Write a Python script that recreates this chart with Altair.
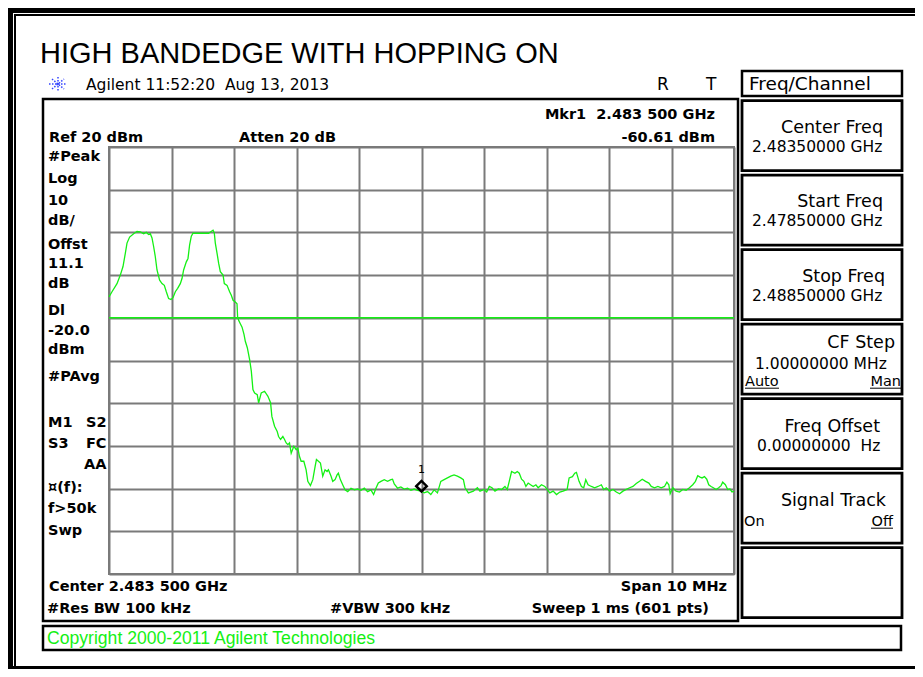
import altair as alt
import pandas as pd

# ---------------- data ----------------
START_MHZ = 2478.5
REF_DBM = 20
BOTTOM_DBM = -80
DISPLAY_LINE_DBM = -20.0
MARKER_MHZ = 2483.5
MARKER_DBM = -60.61

freq_offset_mhz = [
    0.000, 0.048, 0.128, 0.181, 0.224, 0.261, 0.288, 0.330, 0.394, 0.448,
    0.501, 0.554, 0.597, 0.634, 0.661, 0.688, 0.714, 0.741, 0.768, 0.810,
    0.848, 0.885, 0.917, 0.954, 0.992, 1.024, 1.061, 1.098, 1.141, 1.168,
    1.194, 1.237, 1.264, 1.290, 1.317, 1.344, 1.408, 1.461, 1.541, 1.594,
    1.633, 1.665, 1.685, 1.701, 1.729, 1.754, 1.781, 1.825, 1.845, 1.889,
    1.930, 1.957, 1.985, 2.021, 2.048, 2.058, 2.074, 2.101, 2.129,
    2.160, 2.181, 2.213, 2.250, 2.277, 2.303, 2.330, 2.372, 2.394, 2.436,
    2.489, 2.543, 2.585, 2.606, 2.649, 2.691, 2.713, 2.745, 2.782, 2.809,
    2.835, 2.862, 2.888, 2.915, 2.957, 2.995, 3.021, 3.048, 3.074, 3.117,
    3.154, 3.181, 3.223, 3.261, 3.298, 3.319, 3.351, 3.383, 3.420, 3.457,
    3.489, 3.511, 3.553, 3.580, 3.617, 3.649, 3.670, 3.702, 3.739, 3.777,
    3.819, 3.872, 3.926, 3.979, 4.032, 4.085, 4.138, 4.191, 4.234, 4.271,
    4.309, 4.351, 4.404, 4.457, 4.511, 4.537, 4.564, 4.617, 4.670, 4.723,
    4.777, 4.830, 4.883, 4.936, 5.000, 5.043, 5.096, 5.149, 5.202, 5.255,
    5.309, 5.362, 5.415, 5.468, 5.521, 5.574,
    5.628, 5.670, 5.697, 5.750, 5.830, 5.894, 5.936, 6.000, 6.043, 6.085,
    6.128, 6.176, 6.229, 6.282, 6.335, 6.372, 6.404, 6.441, 6.495, 6.532,
    6.564, 6.601, 6.638, 6.670, 6.707, 6.745, 6.787, 6.830, 6.867, 6.920,
    6.973, 7.011, 7.053, 7.106, 7.160, 7.213, 7.266, 7.330, 7.362, 7.415,
    7.452, 7.479, 7.521, 7.559, 7.596, 7.628, 7.665, 7.718, 7.771, 7.824,
    7.878, 7.915, 7.957, 8.011, 8.064, 8.117, 8.170, 8.223, 8.277, 8.330,
    8.383, 8.436, 8.489, 8.532, 8.585, 8.638, 8.676, 8.729, 8.782, 8.835,
    8.888, 8.926, 8.957, 8.979, 9.021, 9.074, 9.128, 9.181, 9.234, 9.287,
    9.340, 9.383, 9.420, 9.457, 9.489, 9.527, 9.564, 9.596, 9.633, 9.670,
    9.713, 9.755, 9.793, 9.819, 9.862, 9.899, 9.936, 9.968, 10.000,
]

level_dbm = [
    -15.1, -13.9, -12.0, -10.0, -8.0, -4.9, -2.5, -1.1, -0.3, 0.2,
    0.1, -0.3, 0.0, -0.5, -0.3, -1.3, -3.3, -5.7, -8.8, -11.2,
    -12.0, -12.4, -13.9, -15.5, -15.7, -15.3, -13.9, -13.1, -12.0, -10.8,
    -8.8, -6.9, -6.1, -2.9, -0.9, -0.2, -0.2, -0.2, -0.2, -0.2,
    0.2, 0.5, -0.2, -2.5, -4.9, -7.2, -9.2, -10.0, -12.0, -12.4,
    -13.9, -14.7, -15.9, -16.3, -16.7, -19.8, -20.6, -21.4, -22.2,
    -23.9, -25.5, -27.0, -29.8, -32.5, -36.8, -37.6, -38.0, -39.9, -37.6,
    -37.2, -38.4, -39.9, -43.1, -45.4, -46.6, -47.8, -48.5, -47.8, -48.5,
    -49.3, -49.7, -49.3, -51.7, -50.1, -50.9, -50.5, -52.5, -53.6, -53.6,
    -55.6, -58.3, -59.3, -57.9, -54.8, -53.2, -53.6, -54.0, -57.1, -55.6,
    -56.0, -55.6, -57.1, -58.3, -57.9, -56.8, -56.4, -57.9, -59.1, -60.3,
    -60.7, -59.9, -60.3, -60.1, -60.4, -59.9, -60.7, -60.3, -61.4, -59.9,
    -58.7, -58.3, -57.9, -58.3, -57.9, -57.8, -58.9, -59.9, -59.6, -60.1,
    -59.9, -60.4, -60.1, -60.4, -60.61, -61.0, -60.7, -61.4, -60.3, -61.0,
    -58.3, -57.9, -57.5, -57.1, -56.8, -57.1,
    -57.5, -57.9, -59.8, -61.0, -60.6, -59.8, -60.6, -60.2, -60.8, -59.5,
    -59.8, -60.6, -60.1, -60.2, -59.5, -60.2, -58.3, -56.0, -56.4, -56.0,
    -56.4, -57.8, -58.3, -59.5, -58.7, -59.1, -59.5, -59.1, -59.8, -59.1,
    -59.5, -60.2, -61.0, -60.6, -61.4, -60.8, -60.6, -60.2, -57.5, -57.2,
    -56.4, -56.2, -58.3, -59.5, -59.8, -57.9, -59.1, -59.5, -59.8, -59.5,
    -59.1, -60.2, -59.8, -60.6, -60.2, -60.8, -61.2, -60.6, -60.2, -59.8,
    -59.5, -58.8, -58.3, -57.8, -58.3, -58.7, -59.5, -59.8, -59.5, -59.8,
    -59.5, -58.5, -59.1, -61.2, -59.8, -60.6, -60.8, -60.2, -60.4, -59.8,
    -59.1, -58.3, -57.0, -57.3, -57.5, -57.2, -57.8, -59.1, -59.5, -59.8,
    -60.2, -59.8, -59.3, -58.5, -59.1, -60.2, -60.1, -60.8, -60.6,
]

grid_freqs = [START_MHZ + i for i in range(11)]
grid_levels = list(range(BOTTOM_DBM, REF_DBM + 1, 10))

trace = pd.DataFrame({"freq": [START_MHZ + f for f in freq_offset_mhz], "dbm": level_dbm})
dl_df = pd.DataFrame({"dl": [DISPLAY_LINE_DBM]})
mk_df = pd.DataFrame({"freq": [MARKER_MHZ], "dbm": [MARKER_DBM]})

# ---------------- layout helpers (page pixel coords) ----------------
OX, OY = 109, 147          # plot-area origin on the page
W, H = 625, 427
ONE = alt.Data(values=[{"k": 0}])
GREEN = "#14F014"
FONT = "DejaVu Sans"


def px(x):
    return x - OX


def py(y):
    return y - OY


def text(s, x, y, size=14.5, bold=False, align="left", color="black", font=FONT):
    return alt.Chart(ONE).mark_text(
        text=s, align=align, baseline="alphabetic", fontSize=size,
        fontWeight="bold" if bold else "normal", color=color, font=font,
    ).encode(x=alt.value(px(x)), y=alt.value(py(y)))


def box(x1, y1, x2, y2, width=2.5, filled=True):
    return alt.Chart(ONE).mark_rect(
        fill="white", fillOpacity=1 if filled else 0, stroke="black", strokeWidth=width,
    ).encode(x=alt.value(px(x1)), x2=alt.value(px(x2)), y=alt.value(py(y1)), y2=alt.value(py(y2)))


def line(x1, y1, x2, y2, width=1.0, color="black", dash=None):
    kw = {"strokeDash": dash} if dash else {}
    return alt.Chart(ONE).mark_rule(color=color, strokeWidth=width, **kw).encode(
        x=alt.value(px(x1)), x2=alt.value(px(x2)), y=alt.value(py(y1)), y2=alt.value(py(y2)))


layers = []

# outer window frame
layers += [
    line(10.5, 8, 10.5, 669, width=5),
    line(15, 14, 15, 669, width=2),
    line(8, 10, 915, 10, width=6),
    line(14, 15, 915, 15, width=2),
    line(8, 667.5, 915, 667.5, width=3),
]

# title and header
layers.append(text("HIGH BANDEDGE WITH HOPPING ON", 40, 63, size=29, font="Liberation Sans"))
layers += [
    line(49, 84, 67, 84, width=1.5, color="#3344FF", dash=[1.5, 1.5]),
    line(58, 77, 58, 91, width=1.5, color="#3344FF", dash=[1.5, 1.5]),
    line(52, 79, 64, 89, width=1.5, color="#3344FF", dash=[1.5, 1.5]),
    line(52, 89, 64, 79, width=1.5, color="#3344FF", dash=[1.5, 1.5]),
]
layers.append(text("Agilent 11:52:20\u00a0\u00a0Aug 13, 2013", 86, 90, size=15.5))
layers.append(text("R", 657, 90, size=17))
layers.append(text("T", 706, 90, size=17))

# main display box
layers.append(box(43, 99, 738, 621, width=2.5, filled=False))

# softkey panel
layers.append(box(742, 71, 902, 96, width=2.5))
layers.append(text("Freq/Channel", 749, 90, size=18.5))
tops = [100.7, 175.2, 249.7, 324.2, 398.7, 473.2, 547.7]
for t in tops:
    layers.append(box(742, t, 902, t + 70, width=2.8))
layers += [
    text("Center Freq", 883, tops[0] + 32, size=17.5, align="right"),
    text("2.48350000 GHz", 752, tops[0] + 51, size=15.5),
    text("Start Freq", 883, tops[1] + 32, size=17.5, align="right"),
    text("2.47850000 GHz", 752, tops[1] + 51, size=15.5),
    text("Stop Freq", 885, tops[2] + 32, size=17.5, align="right"),
    text("2.48850000 GHz", 752, tops[2] + 51, size=15.5),
    text("CF Step", 895, tops[3] + 24, size=17.5, align="right"),
    text("1.00000000 MHz", 755, tops[3] + 45, size=15.5),
    text("Auto", 745, tops[3] + 62, size=14.5),
    line(745, tops[3] + 64, 779, tops[3] + 64, width=1),
    text("Man", 901, tops[3] + 62, size=14.5, align="right"),
    line(870, tops[3] + 64, 901, tops[3] + 64, width=1),
    text("Freq Offset", 880, tops[4] + 33, size=17.5, align="right"),
    text("0.00000000\u00a0\u00a0Hz", 757, tops[4] + 52, size=15.5),
    text("Signal Track", 886, tops[5] + 33, size=17.5, align="right"),
    text("On", 744, tops[5] + 53, size=14.5),
    text("Off", 893, tops[5] + 53, size=14.5, align="right"),
    line(871, tops[5] + 55, 893, tops[5] + 55, width=1),
]

# copyright box
layers.append(box(43, 626, 901, 650, width=2.5))
layers.append(text("Copyright 2000-2011 Agilent Technologies", 47, 644, size=17.6,
                   color=GREEN, font="Liberation Sans"))

# annotation texts in the display
layers += [
    text("Mkr1\u00a0\u00a02.483 500 GHz", 715, 119, bold=True, align="right"),
    text("-60.61 dBm", 715, 141.5, bold=True, align="right"),
    text("Ref 20 dBm", 49, 142, bold=True),
    text("Atten 20 dB", 239, 142, bold=True),
    text("Center 2.483 500 GHz", 49, 591, bold=True),
    text("Span 10 MHz", 727, 591, bold=True, align="right"),
    text("#Res BW 100 kHz", 47, 613, bold=True),
    text("#VBW 300 kHz", 330, 613, bold=True),
    text("Sweep 1 ms (601 pts)", 709, 613, bold=True, align="right"),
]
left_labels = [("#Peak", 161), ("Log", 183), ("10", 205), ("dB/", 225), ("Offst", 249),
               ("11.1", 268), ("dB", 288), ("Dl", 315), ("-20.0", 335), ("dBm", 354),
               ("#PAvg", 381), ("M1", 426.5), ("S3", 447.5), ("\u00a4(f):", 491.5),
               ("f>50k", 513), ("Swp", 535)]
for s, y in left_labels:
    layers.append(text(s, 48, y, bold=True))
layers += [
    text("S2", 106.5, 426.5, bold=True, align="right"),
    text("FC", 106.5, 447.5, bold=True, align="right"),
    text("AA", 106.5, 469, bold=True, align="right"),
]

# ---------------- data layers ----------------
x_enc = alt.X("freq:Q", scale=alt.Scale(domain=[START_MHZ, START_MHZ + 10], nice=False, zero=False),
              axis=alt.Axis(values=grid_freqs, grid=True, labels=False, ticks=False, domain=False,
                            title=None, gridColor="#7A7A7A", gridWidth=2))
y_enc = alt.Y("dbm:Q", scale=alt.Scale(domain=[BOTTOM_DBM, REF_DBM], nice=False, zero=False),
              axis=alt.Axis(values=grid_levels, grid=True, labels=False, ticks=False, domain=False,
                            title=None, gridColor="#7A7A7A", gridWidth=2))

dl_layer = alt.Chart(dl_df).mark_rule(color=GREEN, strokeWidth=1.6).encode(y=alt.Y("dl:Q"))
trace_layer = alt.Chart(trace).mark_line(color=GREEN, strokeWidth=1.3, interpolate="linear").encode(
    x=x_enc, y=y_enc, order=alt.Order("freq:Q"))
marker_layer = alt.Chart(mk_df).mark_point(shape="diamond", filled=False, color="black", opacity=1,
                                           strokeWidth=2.5, size=110, yOffset=-5).encode(
    x="freq:Q", y="dbm:Q")
marker_label = alt.Chart(mk_df).mark_text(text="1", fontSize=11, font=FONT, color="black",
                                          yOffset=-21).encode(x="freq:Q", y="dbm:Q")

chart = alt.layer(trace_layer, dl_layer, marker_layer, marker_label, *layers).properties(
    width=W, height=H,
    autosize=alt.AutoSizeParams(type="none"),
    padding={"left": OX - 8, "top": OY - 8, "right": 907 - (OX - 8) - W, "bottom": 661 - (OY - 8) - H},
    background="white",
).configure_view(stroke="#7A7A7A", strokeWidth=2)

chart.save("out.html", embed_options={"renderer": "svg", "actions": False})
